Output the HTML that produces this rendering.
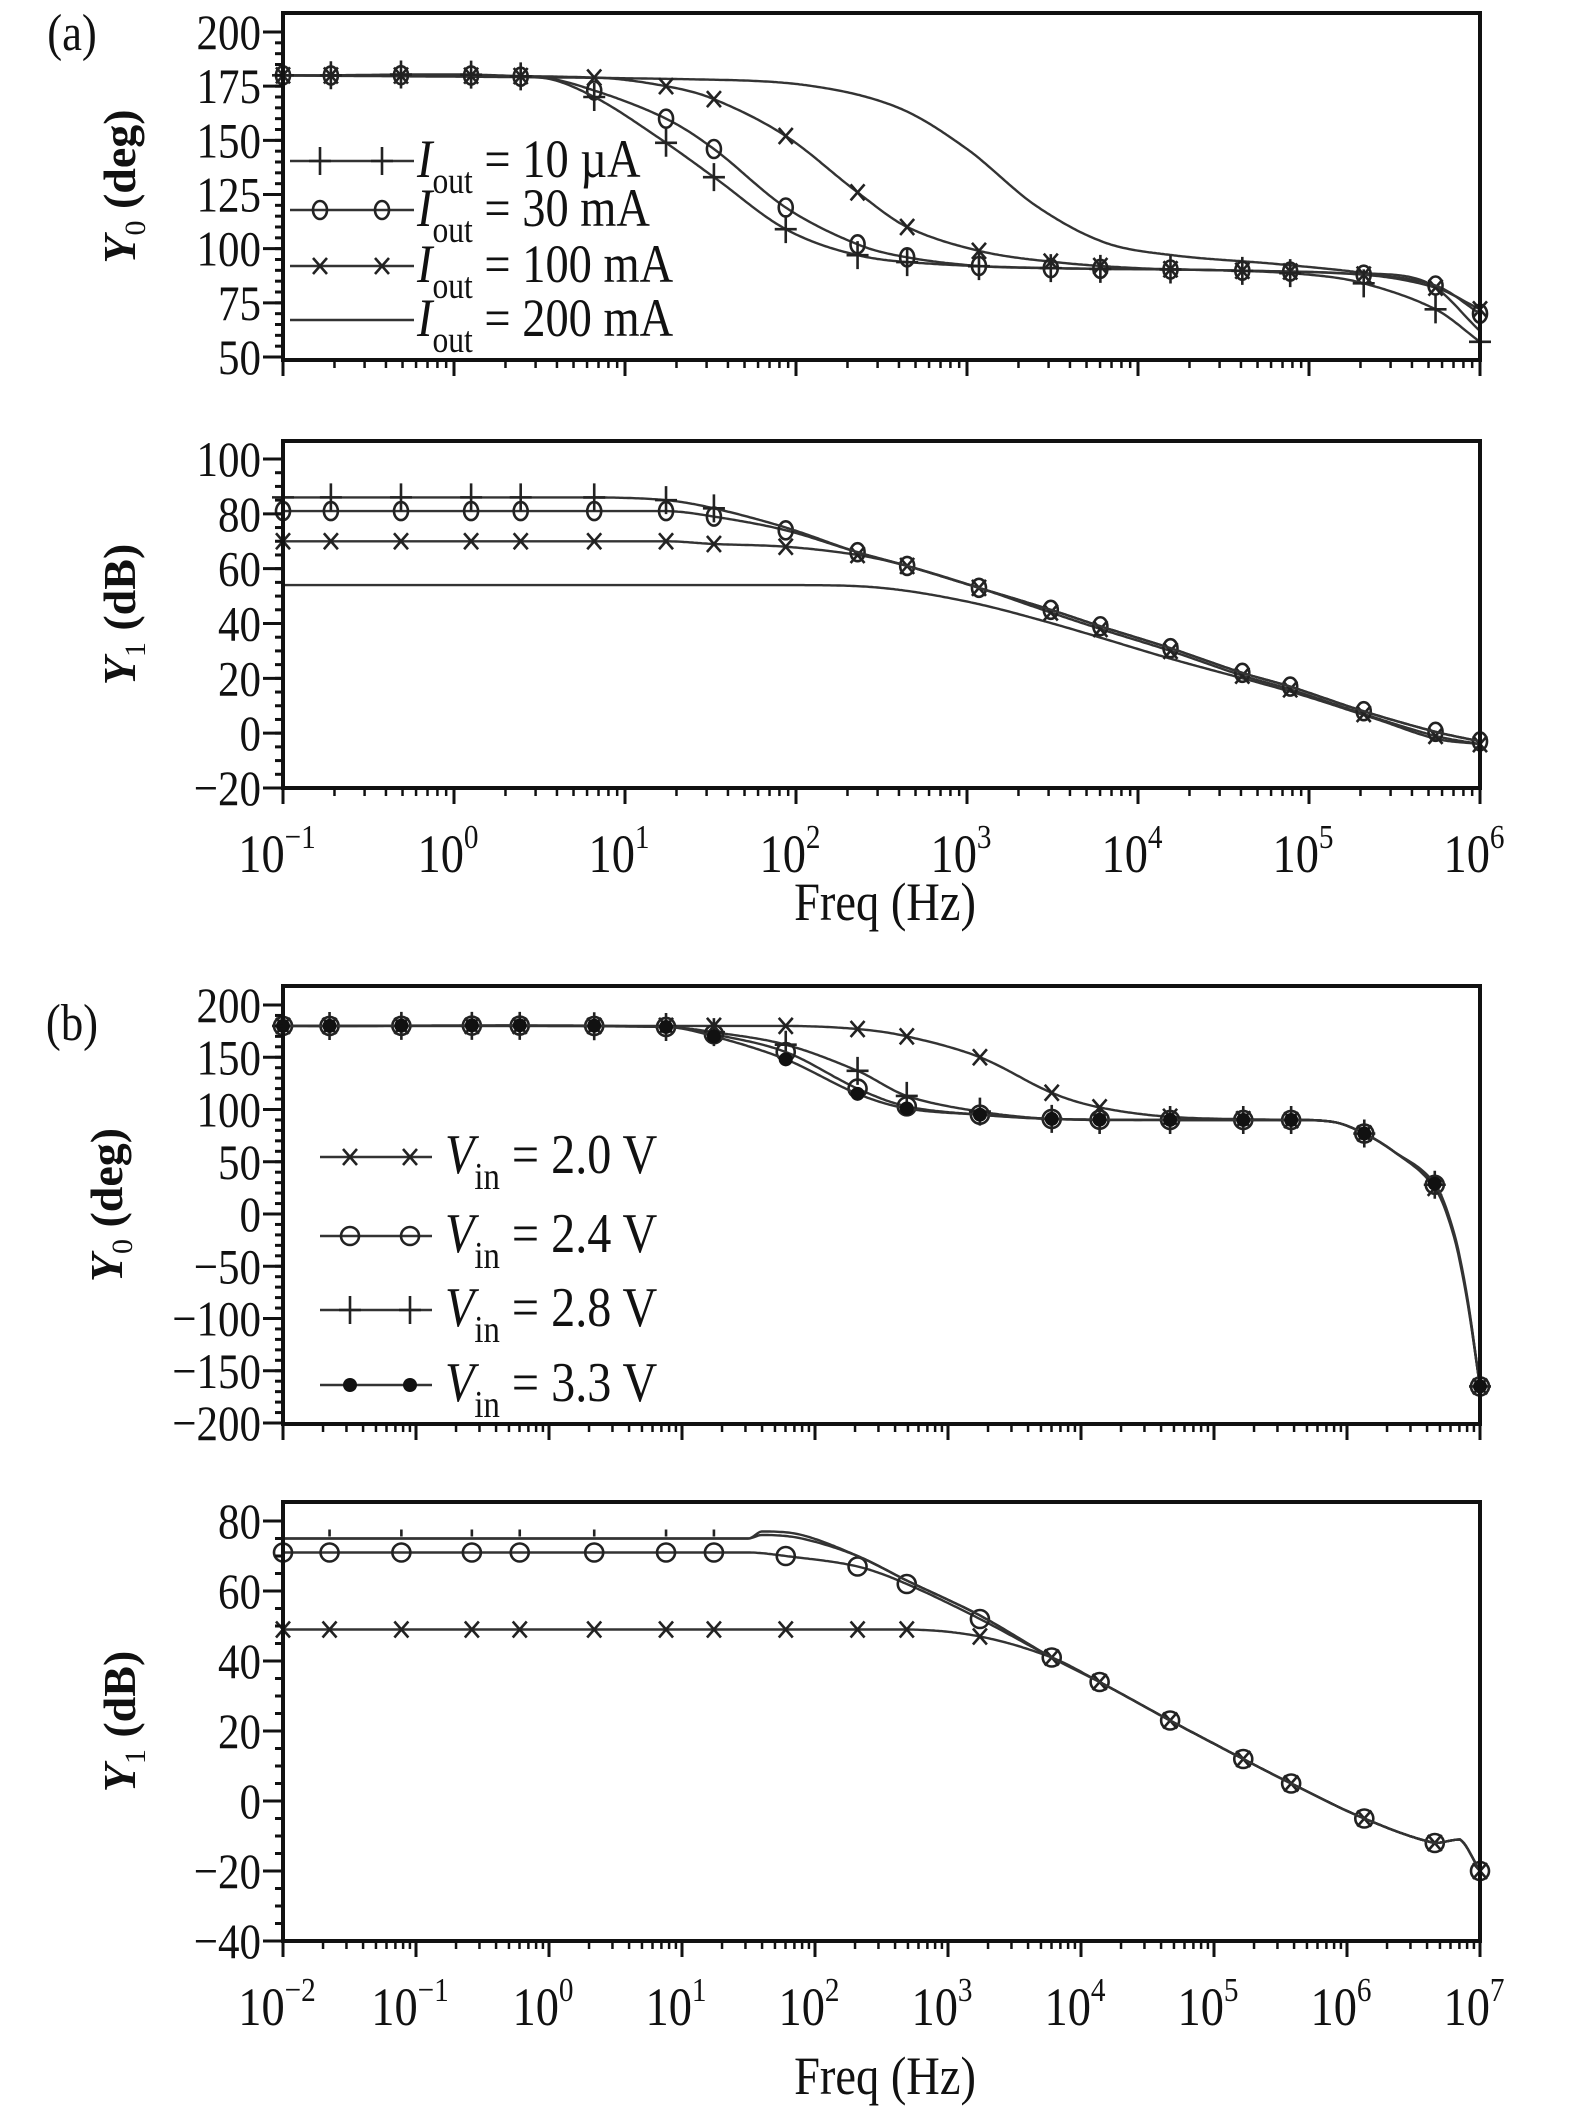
<!DOCTYPE html>
<html><head><meta charset="utf-8"><style>
html,body{margin:0;padding:0;background:#fff;}
svg{display:block;font-family:"Liberation Serif",serif;}
</style></head><body>
<svg id="fig" width="1575" height="2112" viewBox="0 0 1575 2112" xmlns="http://www.w3.org/2000/svg"></svg>
<script>
// ---------- DATA ----------
const aMarkerLogs = [-1,-0.72,-0.31,0.10,0.39,0.82,1.24,1.52,1.94,2.36,2.65,3.07,3.49,3.78,4.19,4.61,4.89,5.32,5.74,6];
const aSeriesNames = ["10 µA","30 mA","100 mA","200 mA"];
const aY0_10uA  = [[-1,180],[0.5,179],[0.82,170],[1.2,151],[1.52,133],[1.94,109],[2.36,97],[2.8,93],[3.5,91],[4.5,90],[5,88],[5.32,84],[5.74,72],[6,57]];
const aY0_30mA  = [[-1,180],[0.5,179],[0.82,173],[1.24,160],[1.52,146],[1.94,119],[2.36,102],[2.65,96],[3.07,92],[3.5,91],[4.5,90],[5.32,88],[5.74,83],[6,70]];
const aY0_100mA = [[-1,180],[0.82,179],[1.24,175],[1.52,169],[1.94,152],[2.36,126],[2.65,110],[3.07,99],[3.49,94],[4,91],[4.5,90],[5.32,88],[5.74,82],[6,72]];
const aY0_200mA = [[-1,180],[1.5,178],[2.1,175],[2.6,165],[3,146],[3.4,120],[3.8,103],[4.2,97],[4.8,93],[5.3,89],[5.7,84],[6,62]];
const aY1_10uA  = [[-1,86],[0.8,86],[1.24,85],[1.52,82],[1.94,75],[2.36,66],[2.65,61],[3.07,53],[3.49,45],[3.78,39],[4.19,31],[4.61,22],[4.89,17],[5.32,8],[5.74,0.5],[6,-3]];
const aY1_30mA  = [[-1,81],[1.24,81],[1.52,79],[1.94,74],[2.36,66],[2.65,61],[3.07,53],[3.49,45],[3.78,39],[4.19,31],[4.61,22],[4.89,17],[5.32,8],[5.74,0.5],[6,-3]];
const aY1_100mA = [[-1,70],[1.24,70],[1.52,69],[1.94,68],[2.36,65],[2.65,61],[3.07,53],[3.49,44],[3.78,38],[4.19,30],[4.61,21],[4.89,16],[5.32,7],[5.74,-1],[6,-4]];
const aY1_200mA = [[-1,54],[2,54],[2.5,53],[3,48],[3.5,40],[4.2,27],[4.9,15],[5.4,5],[5.74,-2],[6,-4]];
const bMarkerLogs = [-2,-1.65,-1.11,-0.58,-0.22,0.34,0.88,1.24,1.78,2.32,2.69,3.24,3.78,4.14,4.67,5.22,5.58,6.13,6.66,7];
const bSeriesNames = ["2.0 V","2.4 V","2.8 V","3.3 V"];
const bY0_20 = [[-2,180],[1.78,180],[2.32,177],[2.69,170],[3.24,150],[3.78,116],[4.14,102],[4.67,93],[5.5,90],[5.9,88],[6.13,77],[6.35,60],[6.66,25],[6.8,-20],[6.9,-80],[7,-165]];
const bY0_24 = [[-2,180],[0.88,179],[1.24,172],[1.78,155],[2.32,120],[2.69,103],[3.24,95],[3.78,91],[4.67,90],[5.5,90],[5.9,88],[6.13,77],[6.35,60],[6.66,28],[6.8,-18],[6.9,-78],[7,-165]];
const bY0_28 = [[-2,180],[0.88,179],[1.24,174],[1.78,162],[2.32,137],[2.69,113],[3.24,98],[3.78,91],[4.67,90],[5.5,90],[5.9,88],[6.13,77],[6.35,60],[6.66,28],[6.8,-18],[6.9,-78],[7,-165]];
const bY0_33 = [[-2,180],[0.88,179],[1.24,170],[1.78,148],[2.32,115],[2.69,101],[3.24,95],[3.78,91],[4.67,90],[5.5,90],[5.9,88],[6.13,77],[6.35,60],[6.66,29],[6.8,-16],[6.9,-76],[7,-165]];
const bY1_20 = [[-2,49],[2.69,49],[3.24,47],[3.78,41],[4.14,34],[4.67,23],[5.22,12],[5.58,5],[6.13,-5],[6.66,-12],[6.85,-11],[7,-20]];
const bY1_24 = [[-2,71],[1.5,71],[1.78,70],[2.32,67],[2.69,62],[3.24,52],[3.78,41],[4.14,34],[4.67,23],[5.22,12],[5.58,5],[6.13,-5],[6.66,-12],[6.85,-11],[7,-20]];
const bY1_28 = [[-2,75],[1.5,75],[1.6,77],[1.9,76],[2.32,70],[2.69,63],[3.24,53],[3.78,41],[4.14,34],[4.67,23],[5.22,12],[5.58,5],[6.13,-5],[6.66,-12],[6.85,-11],[7,-20]];
const bY1_33 = [[-2,75],[1.5,75],[1.6,76],[1.9,75],[2.32,70],[2.69,63],[3.24,53],[3.78,41],[4.14,34],[4.67,23],[5.22,12],[5.58,5],[6.13,-5],[6.66,-12],[6.85,-11],[7,-20]];
const aYTicks0 = [50,75,100,125,150,175,200];
const aYTicks1 = [-20,0,20,40,60,80,100];
const bYTicks0 = [-200,-150,-100,-50,0,50,100,150,200];
const bYTicks1 = [-40,-20,0,20,40,60,80];
const aXDecades = [-1,0,1,2,3,4,5,6];
const bXDecades = [-2,-1,0,1,2,3,4,5,6,7];

// ---------- DRAWING ----------
const NS="http://www.w3.org/2000/svg";
const svg=document.getElementById('fig');
function mk(tag,attrs,parent){const e=document.createElementNS(NS,tag);for(const k in attrs)e.setAttribute(k,attrs[k]);(parent||svg).appendChild(e);return e;}
function interp(pts,lx){
  if(lx<=pts[0][0])return pts[0][1];
  for(let i=1;i<pts.length;i++){if(lx<=pts[i][0]){
    const p0=pts[Math.max(0,i-2)],p1=pts[i-1],p2=pts[i],p3=pts[Math.min(pts.length-1,i+1)];
    const t=(lx-p1[0])/(p2[0]-p1[0]);
    const m1=(p2[1]-p0[1])/((p2[0]-p0[0])||1)*(p2[0]-p1[0]);
    const m2=(p3[1]-p1[1])/((p3[0]-p1[0])||1)*(p2[0]-p1[0]);
    let mm1=m1,mm2=m2;const d=p2[1]-p1[1];
    if(d===0){mm1=0;mm2=0;}else{if(mm1*d<0)mm1=0;if(mm2*d<0)mm2=0;}
    const t2=t*t,t3=t2*t;
    return (2*t3-3*t2+1)*p1[1]+(t3-2*t2+t)*mm1+(-2*t3+3*t2)*p2[1]+(t3-t2)*mm2;}}
  return pts[pts.length-1][1];
}
function marker(g,type,x,y){
  const st={stroke:'#222','stroke-width':2.6,fill:'none'};
  let e;
  if(type==='plus'){e=mk('path',Object.assign({d:`M${x-11},${y}H${x+11}M${x},${y-14}V${y+14}`},st),g);}
  else if(type==='smallplus'){e=mk('path',Object.assign({d:`M${x},${y-9}V${y-2}`},st),g);}
  else if(type==='circle'){e=mk('ellipse',Object.assign({cx:x,cy:y,rx:7,ry:9,fill:'#fff'},st),g);}
  else if(type==='bigcircle'){e=mk('ellipse',Object.assign({cx:x,cy:y,rx:9,ry:9,fill:'#fff'},st),g);}
  else if(type==='x'){e=mk('path',Object.assign({d:`M${x-7},${y-8}L${x+7},${y+8}M${x+7},${y-8}L${x-7},${y+8}`},st),g);}
  else if(type==='dot'){e=mk('circle',{cx:x,cy:y,r:7,fill:'#111'},g);}
  if(e){
  }
}
function ntext(parent,x,y,size,anchor){
  // condensed serif text
  return mk('text',{transform:`translate(${x},${y}) scale(0.86,1)`,'text-anchor':anchor,'font-size':size,fill:'#111'},parent);
}
function panel(cfg){
  const g=mk('g',{});
  
  
  const X=l=>cfg.x0+(l-cfg.lmin)/(cfg.lmax-cfg.lmin)*(cfg.x1-cfg.x0);
  const Y=v=>cfg.yb-(v-cfg.vb)/(cfg.vt-cfg.vb)*(cfg.yb-cfg.yt);
  cfg.series.forEach(s=>{
    let d='';const n=600;
    for(let i=0;i<=n;i++){const l=cfg.lmin+(cfg.lmax-cfg.lmin)*i/n;const v=interp(s.pts,l);d+=(i?'L':'M')+X(l).toFixed(1)+','+Y(v).toFixed(1);}
    const p=mk('path',{d:d,fill:'none',stroke:s.color||'#333','stroke-width':s.w||2.4},g);
    
    
    if(s.marker){cfg.markers.forEach(l=>{if(s.mskip&&s.mskip(l))return;marker(g,s.marker,X(l),Y(interp(s.pts,l))+(s.moff||0));});}
  });
  const fr=mk('rect',{x:cfg.x0,y:cfg.ft,width:cfg.x1-cfg.x0,height:cfg.fb-cfg.ft,fill:'none',stroke:'#111','stroke-width':4},g);
  
  
  const yt=mk('g',{},g);
  
  
  const t0=cfg.yTicks[0],t1=cfg.yTicks[cfg.yTicks.length-1];
  for(let v=t0;v<=t1+1e-6;v+=cfg.yMinor){const yy=Y(v);mk('line',{x1:cfg.x0-8,x2:cfg.x0,y1:yy,y2:yy,stroke:'#111','stroke-width':3},yt);}
  cfg.yTicks.forEach(v=>{const yy=Y(v);mk('line',{x1:cfg.x0-20,x2:cfg.x0,y1:yy,y2:yy,stroke:'#111','stroke-width':3},yt);
    const t=ntext(yt,cfg.x0-22,yy+17,50,'end');
    t.textContent=(v<0?'\u2212'+(-v):''+v);
    
    });
  const xt=mk('g',{},g);
  
  
  cfg.decades.forEach((dd,i)=>{
    const xx=X(dd);mk('line',{x1:xx,x2:xx,y1:cfg.fb,y2:cfg.fb+16,stroke:'#111','stroke-width':3},xt);
    if(i<cfg.decades.length-1)for(let k=2;k<=9;k++){const xm=X(dd+Math.log10(k));mk('line',{x1:xm,x2:xm,y1:cfg.fb,y2:cfg.fb+8,stroke:'#111','stroke-width':2.5},xt);}
    if(cfg.xLabels){const t=ntext(xt,xx-6,cfg.fb+84,54,'middle');
      
      
      t.appendChild(document.createTextNode('10'));
      const sp=mk('tspan',{dy:-24,'font-size':34},t);sp.textContent=(dd<0?'\u2212'+(-dd):''+dd);}
  });
  const yl=mk('text',{transform:`translate(${cfg.titleX},${(cfg.ft+cfg.fb)/2}) rotate(-90)`,'text-anchor':'middle','font-size':46,'font-weight':'bold',fill:'#111'},g);
  
  
  const it=mk('tspan',{'font-style':'italic'},yl);it.textContent='Y';
  const sb=mk('tspan',{dy:10,'font-size':30,'font-weight':'normal'},yl);sb.textContent=cfg.titleSub;
  const rest=mk('tspan',{dy:-10},yl);rest.textContent=' '+cfg.titleUnit;
  return {X,Y};
}
function legend(items,x0,x1,ys,textX,sym,sub,mpos,size){
  const g=mk('g',{});
  
  
  items.forEach((it,i)=>{
    const y=ys[i];
    const e=mk('g',{},g);
    
    
    mk('line',{x1:x0,x2:x1,y1:y,y2:y,stroke:'#333','stroke-width':2.6},e);
    if(it.marker){mpos.forEach(mx=>marker(e,it.marker,mx,y));}
    const t=ntext(e,textX,y+16,size,'start');
    const a=mk('tspan',{'font-style':'italic'},t);a.textContent=sym;
    const b=mk('tspan',{dy:16,'font-size':size*0.68},t);b.textContent=sub;
    const c=mk('tspan',{dy:-16},t);c.textContent=' = '+it.label;
  });
}
panel({name:'panel-a-phase',x0:283,x1:1480,ft:13,fb:360,lmin:-1,lmax:6,yb:357,vb:50,yt:32,vt:200,
  yTicks:aYTicks0,yMinor:5,decades:aXDecades,xLabels:false,markers:aMarkerLogs,titleX:135,titleSub:'0',titleUnit:'(deg)',
  series:[{id:'200mA',pts:aY0_200mA},{id:'100mA',pts:aY0_100mA,marker:'x'},{id:'30mA',pts:aY0_30mA,marker:'circle'},{id:'10uA',pts:aY0_10uA,marker:'plus'}]});
panel({name:'panel-a-magnitude',x0:283,x1:1480,ft:441,fb:788,lmin:-1,lmax:6,yb:788,vb:-20,yt:459,vt:100,
  yTicks:aYTicks1,yMinor:5,decades:aXDecades,xLabels:true,markers:aMarkerLogs,titleX:135,titleSub:'1',titleUnit:'(dB)',
  series:[{id:'200mA',pts:aY1_200mA},{id:'100mA',pts:aY1_100mA,marker:'x'},{id:'30mA',pts:aY1_30mA,marker:'circle'},{id:'10uA',pts:aY1_10uA,marker:'plus',mskip:l=>l>1.6}]});
panel({name:'panel-b-phase',x0:283,x1:1480,ft:986,fb:1424,lmin:-2,lmax:7,yb:1423,vb:-200,yt:1005,vt:200,
  yTicks:bYTicks0,yMinor:10,decades:bXDecades,xLabels:false,markers:bMarkerLogs,titleX:122,titleSub:'0',titleUnit:'(deg)',
  series:[{id:'2.0V',pts:bY0_20,marker:'x'},{id:'2.8V',pts:bY0_28,marker:'plus'},{id:'2.4V',pts:bY0_24,marker:'bigcircle'},{id:'3.3V',pts:bY0_33,marker:'dot'}]});
panel({name:'panel-b-magnitude',x0:283,x1:1480,ft:1502,fb:1941,lmin:-2,lmax:7,yb:1941,vb:-40,yt:1521,vt:80,
  yTicks:bYTicks1,yMinor:5,decades:bXDecades,xLabels:true,markers:bMarkerLogs,titleX:135,titleSub:'1',titleUnit:'(dB)',
  series:[{id:'2.0V',pts:bY1_20,marker:'x'},{id:'2.4V',pts:bY1_24,marker:'bigcircle'},{id:'2.8V',pts:bY1_28,marker:'smallplus',mskip:l=>l>1.3},{id:'3.3V',pts:bY1_33}]});

legend([{label:'10 µA',marker:'plus'},{label:'30 mA',marker:'circle'},{label:'100 mA',marker:'x'},{label:'200 mA'}],290,414,[161,210,266,320],417,'I','out',[320,382],54);
legend([{label:'2.0 V',marker:'x'},{label:'2.4 V',marker:'bigcircle'},{label:'2.8 V',marker:'plus'},{label:'3.3 V',marker:'dot'}],320,432,[1157,1236,1310,1385],445,'V','in',[350,410],56);

function label(txt,x,y,size,name){const t=ntext(svg,x,y,size,'middle');t.textContent=txt;
  
  }
label('(a)',72,50,52,'panel-a-label');
label('(b)',72,1040,52,'panel-b-label');
label('Freq (Hz)',885,920,54,'x-axis-title-a');
label('Freq (Hz)',885,2094,54,'x-axis-title-b');
</script>
</body></html>
